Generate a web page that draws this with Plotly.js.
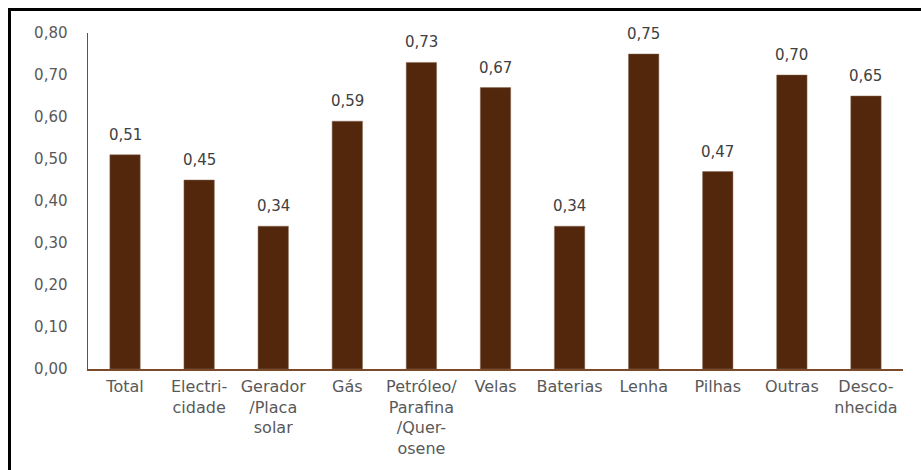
<!DOCTYPE html>
<html><head><meta charset="utf-8">
<script src="https://cdn.plot.ly/plotly-3.0.1.min.js"></script>
<style>
html,body{margin:0;padding:0;background:#fff;}
#wrap{position:relative;width:921px;height:470px;overflow:hidden;}
#chart{position:absolute;left:0;top:0;width:921px;height:470px;}
#frame{position:absolute;left:8px;top:8px;width:930px;height:480px;border-top:3px solid #000;border-left:3px solid #000;pointer-events:none;}
</style></head>
<body>
<div id="wrap"><div id="chart"></div><div id="frame"></div></div>
<script>
const categories = ["Total","Electri-<br>cidade","Gerador<br>/Placa<br>solar","Gás","Petróleo/<br>Parafina<br>/Quer-<br>osene","Velas","Baterias","Lenha","Pilhas","Outras","Desco-<br>nhecida"];
const values = [0.51,0.45,0.34,0.59,0.73,0.67,0.34,0.75,0.47,0.70,0.65];
const yTicks = [0,0.1,0.2,0.3,0.4,0.5,0.6,0.7,0.8];

const font = "'DejaVu Sans',sans-serif";
const labels = categories.map((c,i)=>({
  x:c, y:values[i], xref:'x', yref:'y', yanchor:'bottom', yshift:9,
  text:values[i].toFixed(2).replace('.',','), showarrow:false,
  font:{family:font,size:15,color:'#404040'}
}));
Plotly.newPlot('chart',[{
  type:'bar', x:categories, y:values,
  marker:{color:'#52270c', line:{color:'#8a6a55', width:0.5}},
  hoverinfo:'none'
}],{
  width:921, height:470,
  margin:{l:88,r:18,t:33,b:101},
  separators:', ',
  bargap:0.59,
  paper_bgcolor:'#fff', plot_bgcolor:'#fff',
  font:{family:font,size:15,color:'#595959'},
  showlegend:false,
  annotations:labels,
  xaxis:{showline:true, linecolor:'#7a4a2a', linewidth:1.5, ticks:'', showgrid:false,
    tickfont:{family:font,size:16,color:'#595959'}, tickangle:0, ticklabelstandoff:2},
  yaxis:{range:[0,0.8], tickvals:yTicks, tickformat:'.2f', showline:true, linecolor:'#7a4a2a', linewidth:1.5,
    showgrid:false, zeroline:false, ticks:'', ticklabelstandoff:16,
    tickfont:{family:font,size:15,color:'#595959'}}
},{displayModeBar:false, staticPlot:true});
</script>
</body></html>
